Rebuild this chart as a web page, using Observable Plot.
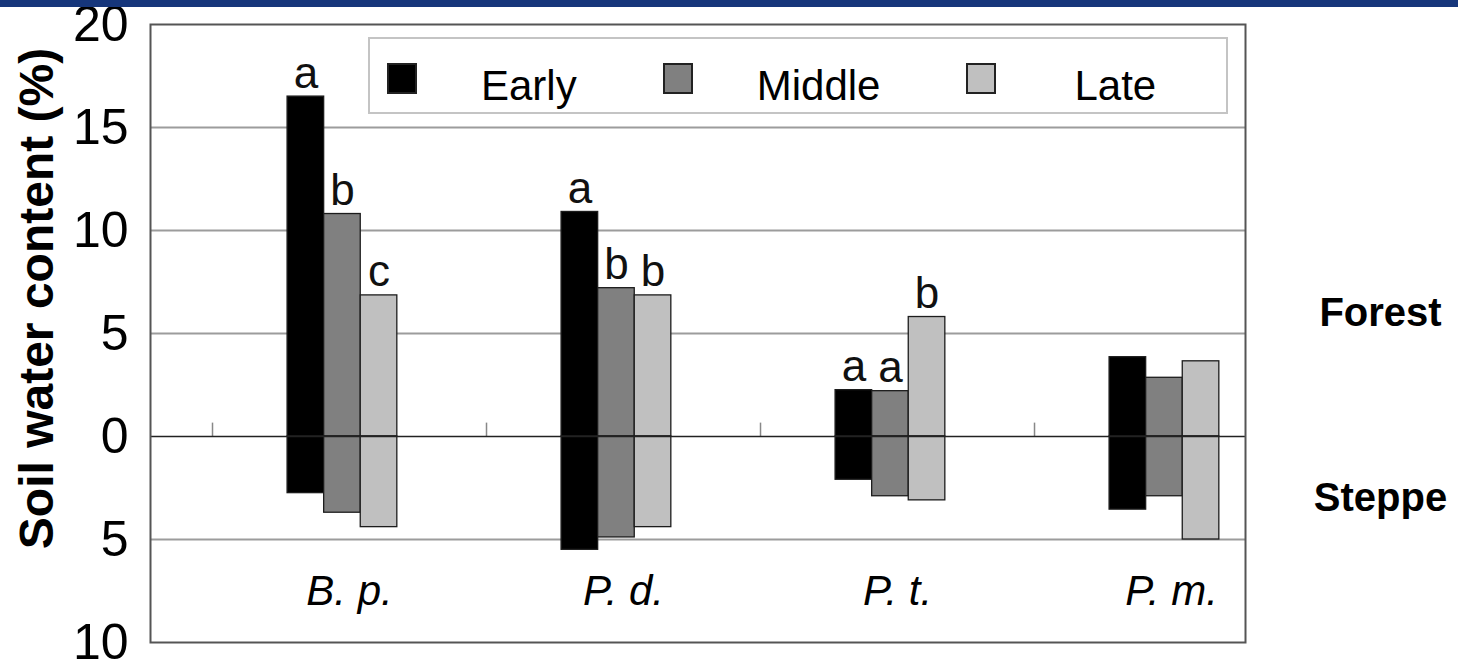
<!DOCTYPE html>
<html>
<head>
<meta charset="utf-8">
<script src="https://cdn.jsdelivr.net/npm/d3@7"></script>
<script src="https://cdn.jsdelivr.net/npm/@observablehq/plot@0.6"></script>
<style>
  html, body { margin: 0; padding: 0; background: #fff; }
  #wrap { position: relative; width: 1458px; height: 665px; overflow: hidden;
          font-family: "Liberation Sans", Arial, sans-serif; }
  #band { position: absolute; left: 0; top: 0; width: 1458px; height: 7px; background: #16367b; }
  #legend { position: absolute; left: 368px; top: 37px; width: 860px; height: 77px;
            border: 2px solid #c4c4c4; box-sizing: border-box; background: #fff;
            display: flex; align-items: flex-start; padding-left: 17px; }
  .item { display: flex; align-items: flex-start; margin-right: 86px; }
  .sw { width: 30px; height: 31px; box-sizing: border-box; border: 2px solid #222; margin-top: 24px; }
  .lab { font-size: 42px; line-height: 42px; margin-left: 64px; margin-top: 26px; color: #000; }
  .item:last-child .lab { margin-left: 78px; }
</style>
</head>
<body>
<div id="wrap">
  <div id="chart"></div>
  <div id="legend"></div>
  <div id="band"></div>
</div>
<script>
// Species (categories) and sampling periods (series)
const species = ["B. p.", "P. d.", "P. t.", "P. m."];
const periods = ["Early", "Middle", "Late"];

// Soil water content (%) in forest (drawn upward)
const forestEarly  = [16.5, 10.9, 2.25, 3.85];
const forestMiddle = [10.8, 7.2, 2.2, 2.85];
const forestLate   = [6.85, 6.85, 5.8, 3.65];

// Soil water content (%) in steppe (drawn downward)
const steppeEarly  = [2.75, 5.5, 2.1, 3.55];
const steppeMiddle = [3.7, 4.9, 2.9, 2.9];
const steppeLate   = [4.4, 4.4, 3.1, 5.0];

// Significance letters above the forest bars
const lettersEarly  = ["a", "a", "a", ""];
const lettersMiddle = ["b", "b", "a", ""];
const lettersLate   = ["c", "b", "b", ""];

// Y tick values (steppe side labelled as positive magnitudes)
const yTicks = [20, 15, 10, 5, 0, -5, -10];

// Side labels for the two halves of the chart
const regions = ["Forest", "Steppe"];
const regionLevels = [6, -3];

const periodColors = ["#000000", "#808080", "#c0c0c0"];

const forest = [forestEarly, forestMiddle, forestLate];
const steppe = [steppeEarly, steppeMiddle, steppeLate];
const letters = [lettersEarly, lettersMiddle, lettersLate];

const rows = species.flatMap((s, i) => periods.map((p, j) => ({
  species: s, period: p, i, j,
  forest: forest[j][i],
  steppe: -steppe[j][i],
  letter: letters[j][i]
})));

// Bar placement inside each category slot (x is in category units)
const GROUP_START = 0.274;
const BAR = 0.1335;
const bx1 = d => d.i + GROUP_START + d.j * BAR;
const bx2 = d => bx1(d) + BAR;
const bxc = d => bx1(d) + BAR / 2;

const chart = Plot.plot({
  width: 1458,
  height: 665,
  marginLeft: 150,
  marginRight: 213,
  marginTop: 24,
  marginBottom: 23,
  style: { fontFamily: "'Liberation Sans', Arial, sans-serif", background: "transparent", color: "#000", overflow: "visible" },
  x: { type: "linear", domain: [-0.2263, 3.770], axis: null },
  y: { domain: [-10, 20], axis: null },
  color: { domain: periods, range: periodColors },
  marks: [
    Plot.ruleY([15, 10, 5, -5], { stroke: "#9c9c9c", strokeWidth: 2 }),
    Plot.ruleX([0, 1, 2, 3], { y1: 0, y2: 0.65, stroke: "#888", strokeWidth: 1.5 }),
    Plot.rect(rows, { x1: bx1, x2: bx2, y1: 0, y2: "forest", fill: "period", stroke: "#1c1c1c", strokeWidth: 1.3 }),
    Plot.rect(rows, { x1: bx1, x2: bx2, y1: 0, y2: "steppe", fill: "period", stroke: "#1c1c1c", strokeWidth: 1.3 }),
    Plot.ruleY([0], { stroke: "#222", strokeWidth: 1.6 }),
    Plot.text(rows.filter(d => d.letter), {
      x: bxc, y: "forest", text: "letter", lineAnchor: "bottom", dy: -9,
      fontSize: 44, fill: "#111"
    }),
    Plot.text(species, {
      x: (d, i) => i + 0.5, y: -8.2, text: d => d, lineAnchor: "bottom",
      fontSize: 42, fontStyle: "italic", fill: "#000"
    }),
    Plot.axisY(yTicks, {
      tickFormat: d => Math.abs(d), tickSize: 0, tickPadding: 22,
      fontSize: 50, label: null, fill: "#000"
    }),
    Plot.frame({ stroke: "#555", strokeWidth: 2 }),
    Plot.text(["Soil water content (%)"], {
      frameAnchor: "left", textAnchor: "middle", rotate: -90, dx: -98, dy: -35, lineAnchor: "bottom",
      fontSize: 48, fontWeight: "bold", fill: "#000"
    }),
    Plot.text(regions, {
      frameAnchor: "right", textAnchor: "middle", y: regionLevels, text: d => d, dx: 135,
      fontSize: 40, fontWeight: "bold", fill: "#000"
    })
  ]
});
document.getElementById("chart").appendChild(chart);

// Legend drawn inside the plot area
const legend = d3.select("#legend");
periods.forEach((p, j) => {
  const item = legend.append("div").attr("class", "item");
  item.append("div").attr("class", "sw").style("background", periodColors[j]);
  item.append("span").attr("class", "lab").text(p);
});
</script>
</body>
</html>
